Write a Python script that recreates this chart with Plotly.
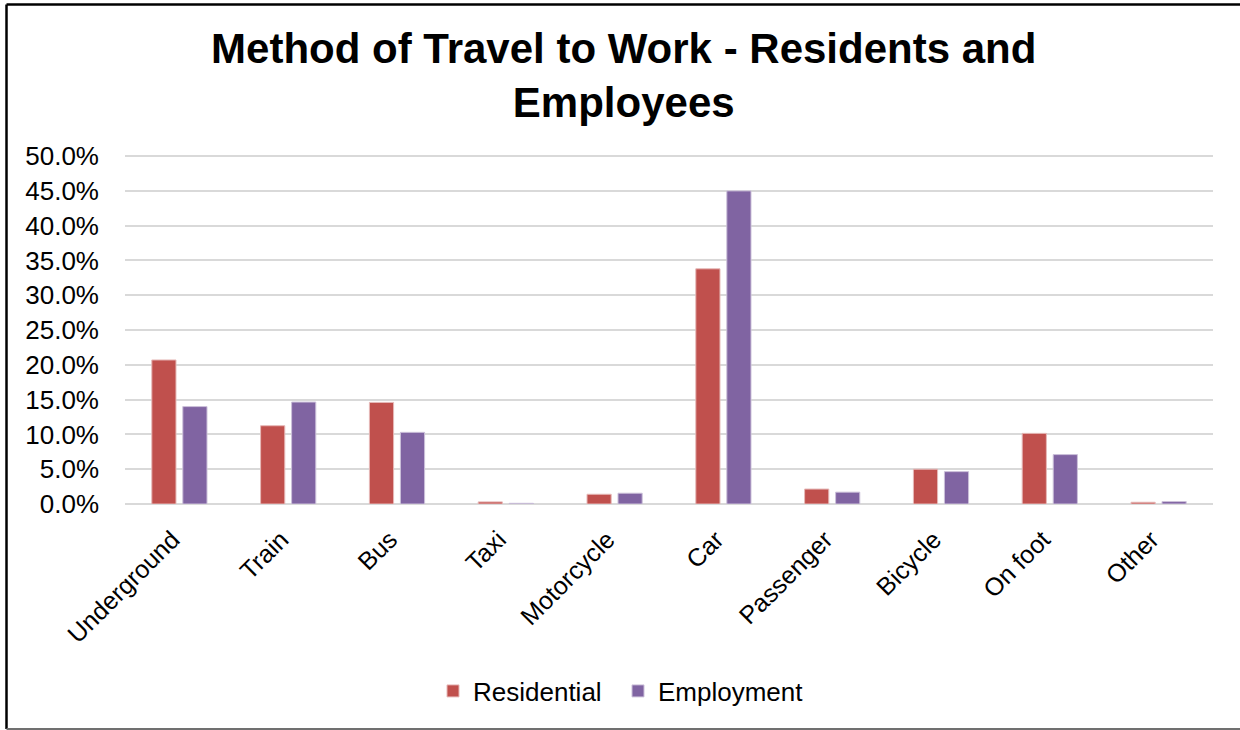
import plotly.graph_objects as go

categories = ["Underground", "Train", "Bus", "Taxi", "Motorcycle", "Car",
              "Passenger", "Bicycle", "On foot", "Other"]
residential = [0.207, 0.1125, 0.146, 0.003, 0.014, 0.338, 0.0215, 0.050, 0.1015, 0.0025]
employment = [0.140, 0.1465, 0.103, 0.001, 0.0155, 0.450, 0.017, 0.0465, 0.071, 0.0035]
y_ticks = [i * 0.05 for i in range(11)]
y_tick_labels = [f"{v*100:.1f}%" for v in y_ticks]

W, H = 1240, 730
y_max = 0.503
ml, mr, mb = 125, 27, 226
mt = int(round(H - mb - 348 * y_max / 0.5))
pw, ph = W - ml - mr, H - mt - mb

def px_x(x):
    return (x - ml) / pw

def px_y(y):
    return (H - mb - y) / ph

fig = go.Figure()
fig.add_trace(go.Bar(name="Residential", x=categories, y=residential,
                     marker=dict(color="#C0504D", line=dict(color="#E6B9B8", width=1))))
fig.add_trace(go.Bar(name="Employment", x=categories, y=employment,
                     marker=dict(color="#8064A2", line=dict(color="#CCC1DA", width=1))))

fig.update_layout(
    width=W, height=H,
    margin=dict(l=ml, r=mr, t=mt, b=mb, autoexpand=False),
    paper_bgcolor="white", plot_bgcolor="white",
    font=dict(family="Liberation Sans, Arial, sans-serif", color="black", size=25),
    barmode="group", bargap=0.43, bargroupgap=0.22,
    title=dict(text="<b>Method of Travel to Work - Residents and<br>Employees</b>",
               x=0.503, xanchor="center", y=0.914, yanchor="middle",
               font=dict(size=42, family="Liberation Sans, Arial, sans-serif")),
    legend=dict(orientation="h", x=px_x(618), xanchor="center", y=px_y(691), yanchor="middle",
                font=dict(size=26), traceorder="normal", entrywidth=140),
    xaxis=dict(tickangle=-45, showgrid=False, showline=False, ticks="",
               tickfont=dict(size=25), automargin=False, ticklabelstandoff=15,
               ticklabelshift=-7),
    yaxis=dict(range=[0, y_max], tickvals=y_ticks, ticktext=y_tick_labels,
               showgrid=True, gridcolor="#D9D9D9", gridwidth=2, zeroline=True,
               zerolinecolor="#D9D9D9", zerolinewidth=2, ticks="", showline=False,
               tickfont=dict(size=26), ticklabelstandoff=25, automargin=False),
    shapes=[
        dict(type="line", xref="paper", yref="paper",
             x0=px_x(6.5), x1=px_x(1245), y0=px_y(4.5), y1=px_y(4.5),
             line=dict(color="black", width=2.5)),
        dict(type="line", xref="paper", yref="paper",
             x0=px_x(6.5), x1=px_x(6.5), y0=px_y(4.5), y1=px_y(729),
             line=dict(color="black", width=2.5)),
        dict(type="line", xref="paper", yref="paper",
             x0=px_x(6.5), x1=px_x(1245), y0=px_y(729), y1=px_y(729),
             line=dict(color="#707070", width=2)),
    ],
)

fig.write_html("out.html", config={"displayModeBar": False},
               post_script="document.body.style.margin='0';")
